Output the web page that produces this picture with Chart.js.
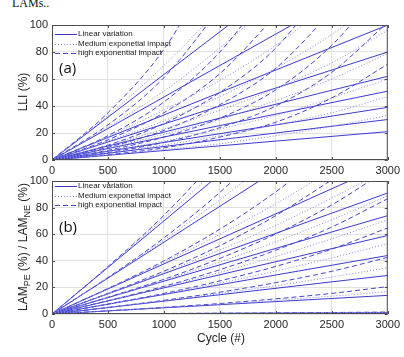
<!DOCTYPE html>
<html>
<head>
<meta charset="utf-8">
<script src="https://cdn.jsdelivr.net/npm/chart.js@4.4.0/dist/chart.umd.min.js"></script>
<style>
  html, body { margin: 0; padding: 0; background: #fff; }
  body { width: 404px; height: 357px; position: relative; overflow: hidden; font-family: "Liberation Sans", Arial, sans-serif; color: #262626; }
  .panel { position: absolute; left: 0; }
  .caption { position: absolute; left: 12px; top: -4px; font-family: "Liberation Serif", "Times New Roman", serif; font-size: 12px; color: #111; }
  .ytitle { position: absolute; white-space: nowrap; font-size: 12px; transform: translate(-50%, -50%) rotate(-90deg); }
  .ytitle sub { font-size: 9px; vertical-align: -3px; }
  .xtitle { position: absolute; left: 221px; top: 338px; transform: translate(-50%, -50%); font-size: 12px; white-space: nowrap; }
</style>
</head>
<body>
<div class="caption">LAMs..</div>
<div class="panel" style="top:0"><canvas id="lliChart" width="404" height="180"></canvas></div>
<div class="panel" style="top:170px"><canvas id="lamChart" width="404" height="170"></canvas></div>
<div class="ytitle" style="left:23px; top:92px">LLI (%)</div>
<div class="ytitle" style="left:24px; top:247px">LAM<sub>PE</sub> (%) / LAM<sub>NE</sub> (%)</div>
<div class="xtitle">Cycle (#)</div>
<script>
const cycles = [0, 500, 1000, 1500, 2000, 2500, 3000];

// (a) LLI: linear lines given by their value at 3000 cycles
const lliLinearEnd = [21, 30, 39, 51, 62, 80, 100, 140, 190];
const lliMedium = [
    [0, 3.7, 7.7, 12, 18, 25, 33],
    [0, 5.3, 11, 18, 26, 35, 47],
    [0, 6.8, 14, 23, 33, 46, 60],
    [0, 8.9, 19, 30, 44, 60, 79],
    [0, 11, 23, 37, 53, 72, 96],
    [0, 14, 29, 47, 68, 93, 124],
    [0, 17.5, 37, 59, 85, 117],
    [0, 24.5, 51, 83, 119],
    [0, 33, 70, 112]
];
const lliHigh = [
    [0, 3.9, 9, 17, 28, 46, 71],
    [0, 5.5, 13, 24, 40, 65, 102],
    [0, 7.2, 17, 31, 52, 85, 133],
    [0, 9.4, 22, 41, 68, 110],
    [0, 11, 27, 50, 83, 134],
    [0, 15, 35, 64, 107],
    [0, 18, 43, 80, 133],
    [0, 26, 61, 112],
    [0, 35, 82, 152]
];

// (b) LAM
const lamLinearEnd = [1, 14, 29, 44, 59, 74, 91, 113, 162, 210];
const lamMedium = [
    [0, 0.2, 0.3, 0.5, 0.7, 1, 1.2],
    [0, 2.4, 4.8, 7.4, 10.3, 13.4, 16.8],
    [0, 4.9, 10, 15.4, 21.3, 27.8, 34.8],
    [0, 7.4, 15.1, 23.3, 32.3, 42.2, 52.8],
    [0, 9.9, 20.3, 31.3, 43.3, 56.5, 70.8],
    [0, 12.5, 25.4, 39.2, 54.3, 70.9, 88.8],
    [0, 15.3, 31.2, 48.2, 66.7, 87.2, 109],
    [0, 19, 38.8, 59.9, 82.9, 108.3],
    [0, 27.3, 55.6, 85.9, 118.8],
    [0, 35.4, 72.1, 111]
];
const lamHigh = [
    [0, 0.2, 0.4, 0.6, 0.8, 1.1, 1.5],
    [0, 2.4, 5, 7.9, 11.4, 15.5, 20.6],
    [0, 4.9, 10.3, 16.4, 23.6, 32.1, 42.6],
    [0, 7.5, 15.5, 24.9, 35.8, 48.8, 64.7],
    [0, 10, 20.8, 33.3, 48, 65.4, 86.7],
    [0, 12.6, 26.1, 41.8, 60.2, 82, 108.8],
    [0, 15.5, 32.2, 51.4, 74, 100.9],
    [0, 19.2, 39.9, 63.8, 91.9, 125],
    [0, 27.5, 57.2, 91.5, 131.8],
    [0, 35.7, 74.2, 118.7]
];

const legendLabels = ['Linear variation', 'Medium exponetial impact', 'high exponential impact'];

const styles = {
    linear: { borderColor: '#3b3bd0', borderDash: [] },
    medium: { borderColor: '#8585e2', borderDash: [1, 2] },
    high:   { borderColor: '#4646d6', borderDash: [5, 3] }
};

const toPoints = values => values.map((v, i) => ({ x: cycles[i], y: v }));

function buildDatasets(linearEnd, medium, high) {
    const sets = [];
    medium.forEach(vals => sets.push({ data: toPoints(vals), ...styles.medium }));
    high.forEach(vals => sets.push({ data: toPoints(vals), ...styles.high }));
    linearEnd.forEach(end => sets.push({
        data: [{ x: cycles[0], y: 0 }, { x: cycles[cycles.length - 1], y: end }],
        ...styles.linear
    }));
    return sets;
}

// frame, inward ticks, legend and panel tag (MATLAB look)
const framePlugin = {
    id: 'frameLegend',
    afterDatasetsDraw(chart, args, opts) {
        const { ctx, chartArea: a, scales } = chart;
        ctx.save();
        ctx.strokeStyle = '#4d4d4d';
        ctx.lineWidth = 1;
        ctx.setLineDash([]);
        ctx.strokeRect(a.left + 0.5, a.top + 0.5, a.right - a.left - 1, a.bottom - a.top - 1);

        ctx.beginPath();
        scales.x.ticks.forEach(t => {
            const px = Math.round(scales.x.getPixelForValue(t.value)) + 0.5;
            ctx.moveTo(px, a.bottom); ctx.lineTo(px, a.bottom - 3);
            ctx.moveTo(px, a.top); ctx.lineTo(px, a.top + 3);
        });
        scales.y.ticks.forEach(t => {
            const py = Math.round(scales.y.getPixelForValue(t.value)) + 0.5;
            ctx.moveTo(a.left, py); ctx.lineTo(a.left + 3, py);
            ctx.moveTo(a.right, py); ctx.lineTo(a.right - 3, py);
        });
        ctx.stroke();

        // legend
        const keys = ['linear', 'medium', 'high'];
        ctx.font = '8px "Liberation Sans", Arial, sans-serif';
        ctx.textBaseline = 'middle';
        keys.forEach((k, i) => {
            const y = a.top + opts.legendTop + i * 9.6;
            ctx.strokeStyle = styles[k].borderColor;
            ctx.setLineDash(styles[k].borderDash);
            ctx.beginPath();
            ctx.moveTo(a.left + 3, Math.round(y) + 0.5);
            ctx.lineTo(a.left + 25, Math.round(y) + 0.5);
            ctx.stroke();
            ctx.fillStyle = '#1a1a1a';
            ctx.fillText(legendLabels[i], a.left + 26, y);
        });

        ctx.font = '15px "Open Sans", "Liberation Sans", sans-serif';
        ctx.fillStyle = '#111';
        ctx.textBaseline = 'middle';
        ctx.fillText(opts.tag, a.left + 7, a.top + opts.tagTop);
        ctx.restore();
    }
};

function makeChart(id, datasets, cfg) {
    const tickFont = { family: '"Liberation Sans", Arial, sans-serif', size: 11 };
    return new Chart(document.getElementById(id), {
        type: 'line',
        data: { datasets },
        options: {
            responsive: false,
            animation: false,
            events: [],
            layout: { padding: { top: cfg.padTop, right: 14, left: 0, bottom: 0 } },
            elements: {
                point: { radius: 0 },
                line: { borderWidth: 1, cubicInterpolationMode: 'monotone', fill: false }
            },
            plugins: {
                legend: { display: false },
                tooltip: { enabled: false },
                frameLegend: { legendTop: cfg.legendTop, tag: cfg.tag, tagTop: cfg.tagTop }
            },
            scales: {
                x: {
                    type: 'linear', min: 0, max: 3000,
                    ticks: { stepSize: 500, color: '#262626', font: tickFont, padding: 4, maxRotation: 0,
                             callback: v => String(v) },
                    grid: { color: '#e2e2e2', drawTicks: false },
                    border: { display: false },
                    afterFit: s => { s.height = cfg.xHeight; }
                },
                y: {
                    type: 'linear', min: 0, max: 100,
                    ticks: { stepSize: 20, color: '#262626', font: tickFont, padding: 4 },
                    grid: { color: '#e2e2e2', drawTicks: false },
                    border: { display: false },
                    afterFit: s => { s.width = 52; }
                }
            }
        },
        plugins: [framePlugin]
    });
}

makeChart('lliChart', buildDatasets(lliLinearEnd, lliMedium, lliHigh),
    { padTop: 25, xHeight: 20, legendTop: 9, tag: '(a)', tagTop: 44 });
makeChart('lamChart', buildDatasets(lamLinearEnd, lamMedium, lamHigh),
    { padTop: 11, xHeight: 26, legendTop: 5, tag: '(b)', tagTop: 47 });
</script>
</body>
</html>
